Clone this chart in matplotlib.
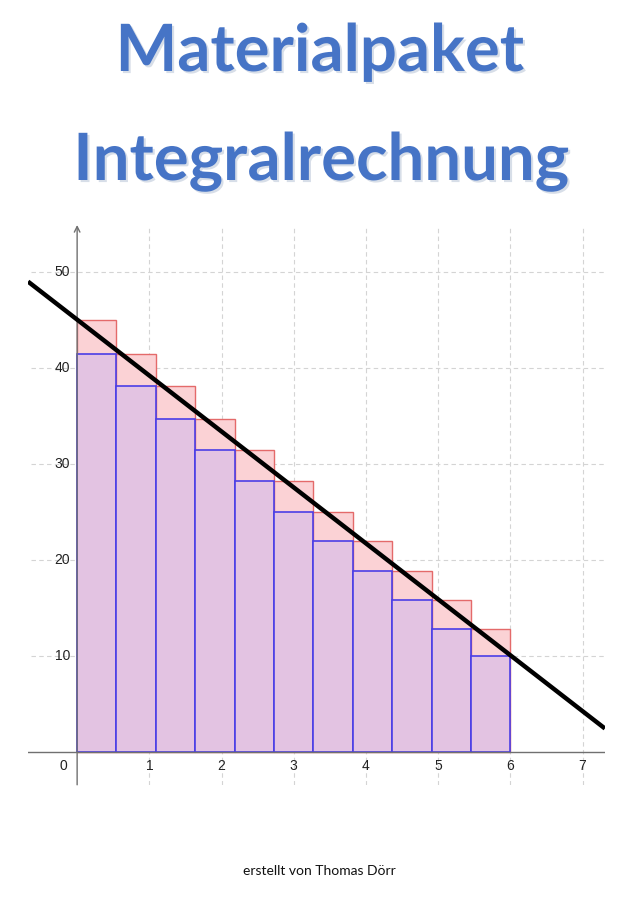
import matplotlib.pyplot as plt
import matplotlib.patheffects as pe

# rectangle partition of [0, 6] and heights (upper / lower sums)
x_edges = [0, 0.545, 1.09, 1.636, 2.18, 2.727, 3.27, 3.818, 4.36, 4.909, 5.45, 6.0]
upper = [45.0, 41.5, 38.1, 34.7, 31.4, 28.2, 25.0, 21.9, 18.8, 15.8, 12.8]
lower = [41.5, 38.1, 34.7, 31.4, 28.2, 25.0, 21.9, 18.8, 15.8, 12.8, 10.0]

# the straight line
line_x = [-0.68, 7.31]
line_y = [49.0, 2.4]

x_ticks = [1, 2, 3, 4, 5, 6, 7]
y_ticks = [10, 20, 30, 40, 50]

fig = plt.figure(figsize=(6.23, 9), dpi=100)
ax = fig.add_axes([0.045, 0.128, 0.926, 0.622])
ax.set_xlim(-0.68, 7.31)
ax.set_ylim(-3.47, 54.9)
for s in ax.spines.values():
    s.set_visible(False)
ax.set_xticks([])
ax.set_yticks([])

# grid
for xv in x_ticks:
    ax.axvline(xv, color='#d4d4d4', lw=0.8, ls=(0, (4, 3)), zorder=0)
for yv in y_ticks:
    ax.axhline(yv, xmin=0.005, color='#d4d4d4', lw=0.8, ls=(0, (4, 3)), zorder=0)

widths = [x_edges[i + 1] - x_edges[i] for i in range(len(upper))]
ax.bar(x_edges[:-1], upper, width=widths, align='edge',
       facecolor='#fbd2d5', edgecolor='#e46a6a', lw=1.0, zorder=2)
ax.bar(x_edges[:-1], lower, width=widths, align='edge',
       facecolor='#e3c3e2', edgecolor='#4b3ee6', lw=1.2, zorder=3)

ax.plot(line_x, line_y, color='black', lw=3.2, zorder=5, solid_capstyle='butt')

# axes
ax.axhline(0, color='#707070', lw=1.0, zorder=4)
ax.annotate('', xy=(0, 54.9), xytext=(0, -3.47),
            arrowprops=dict(arrowstyle='->', color='#707070', lw=1.0,
                            shrinkA=0, shrinkB=0), zorder=4)

tick_font = dict(fontsize=10, color='#222222', family='Liberation Sans')
for xv in x_ticks:
    ax.text(xv, -1.5, str(xv), ha='center', va='center', **tick_font)
ax.text(-0.13, -1.5, '0', ha='right', va='center', **tick_font)
for yv in y_ticks:
    ax.text(-0.1, yv, str(yv), ha='right', va='center', **tick_font)

shadow = [pe.SimplePatchShadow(offset=(1.5, -1.5), shadow_rgbFace='#a8b6cc', alpha=0.45), pe.Normal()]
fig.text(0.513, 1 - 71 / 900, 'Materialpaket', ha='center', va='baseline',
         fontsize=47, fontweight='bold', family='Lato', color='#4674c6', path_effects=shadow)
fig.text(0.515, 1 - 180 / 900, 'Integralrechnung', ha='center', va='baseline',
         fontsize=47, fontweight='bold', family='Lato', color='#4674c6', path_effects=shadow)

fig.text(0.513, 1 - 871 / 900, 'erstellt von Thomas Dörr', ha='center', va='center',
         fontsize=10, family='Lato', color='#111111')

fig.savefig('out.png', dpi=100)
